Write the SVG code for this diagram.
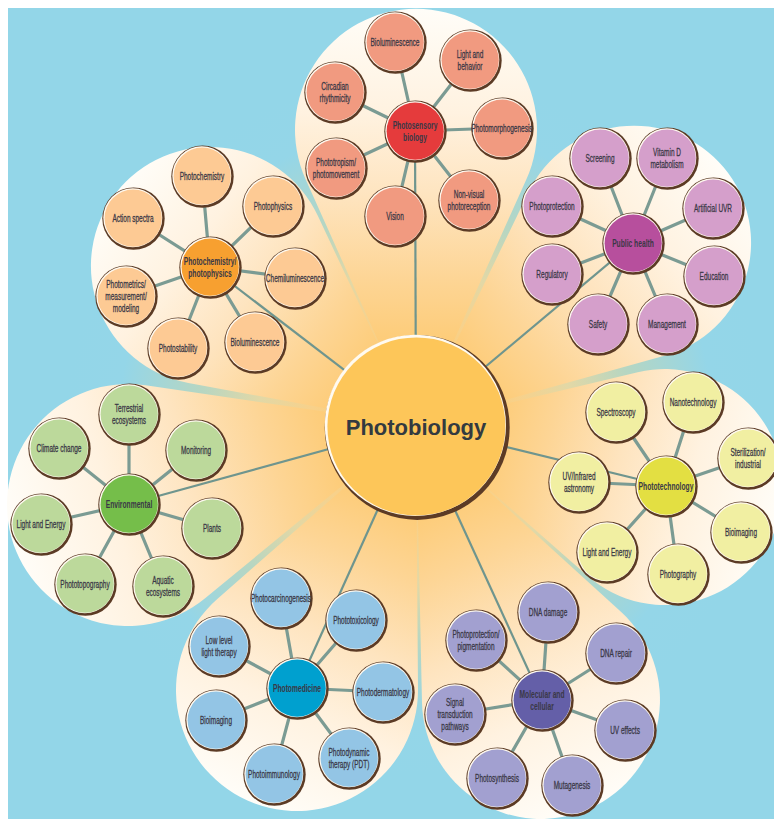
<svg xmlns="http://www.w3.org/2000/svg" width="774" height="819" viewBox="0 0 774 819">
<style>
.t{font-family:'Liberation Sans',Arial,sans-serif;font-size:10.8px;fill:#3a3846;text-anchor:middle;stroke:#3a3846;stroke-width:0.3}
.h{font-weight:bold;font-size:11px;stroke:none}
.main{font-family:'Liberation Sans',Arial,sans-serif;font-weight:bold;font-size:22px;fill:#333a40;text-anchor:middle}
.cn line{stroke:#7b9b93;stroke-width:3.2;stroke-linecap:round}
.cm line{stroke:#6f958e;stroke-width:2.2}
.c-ps{fill:#f19a80}.h-ps{fill:#e53b3c}
.c-pc{fill:#fdca94}.h-pc{fill:#f7a030}
.c-ph{fill:#d59fcb}.h-ph{fill:#b74f9d}
.c-en{fill:#bcd99b}.h-en{fill:#75be4a}
.c-pt{fill:#f1efa2}.h-pt{fill:#e3df42}
.c-pm{fill:#93c5e5}.h-pm{fill:#00a0cf}
.c-mc{fill:#a2a0d0}.h-mc{fill:#645fa8}
</style>
<defs>
<radialGradient id="bg" gradientUnits="userSpaceOnUse" cx="416" cy="425" r="350">
<stop offset="0" stop-color="#fdc55c"/>
<stop offset="0.3" stop-color="#f8d18a"/>
<stop offset="0.45" stop-color="#e2d8a6"/>
<stop offset="0.62" stop-color="#b6d6c2"/>
<stop offset="0.85" stop-color="#94d6e8"/>
<stop offset="1" stop-color="#93d6e8"/>
</radialGradient>
<linearGradient id="p1" gradientUnits="userSpaceOnUse" x1="416" y1="9" x2="416" y2="425">
<stop offset="0" stop-color="#fffdf8"/>
<stop offset="0.25" stop-color="#fff2e0"/>
<stop offset="0.45" stop-color="#fee4bf"/>
<stop offset="0.65" stop-color="#fdd595"/>
<stop offset="0.85" stop-color="#fdc96f"/>
<stop offset="1" stop-color="#fdc45c"/>
</linearGradient>
<linearGradient id="p2" href="#p1" x1="723.8" y1="168" x2="416" y2="425"/>
<linearGradient id="p3" href="#p1" x1="779.5" y1="515.5" x2="416" y2="425"/>
<linearGradient id="p4" href="#p1" x1="590.3" y1="808.3" x2="416" y2="425"/>
<linearGradient id="p5" href="#p1" x1="247.4" y1="800.4" x2="416" y2="425"/>
<linearGradient id="p6" href="#p1" x1="11.4" y1="537.4" x2="416" y2="425"/>
<linearGradient id="p7" href="#p1" x1="115.8" y1="193.3" x2="416" y2="425"/>
<g id="ring"><circle cx="0.5" cy="0.6" r="31.2" fill="#5c3b25"/><circle cx="-0.2" cy="-0.2" r="29.5" fill="#fffaf0"/></g>
</defs>
<rect x="0" y="0" width="774" height="819" fill="#ffffff"/>
<rect x="8" y="8" width="766" height="811" fill="url(#bg)"/>
<g id="petals">
<path d="M416,425 L305.7,179.6 A121,121 0 1 1 526.3,179.6 Z" fill="url(#p1)"/>
<path d="M416,425 L528.6,192 A117,117 0 1 1 665.3,355.4 Z" fill="url(#p2)"/>
<path d="M416,425 L637.7,372.3 A118,118 0 1 1 587.1,575.6 Z" fill="url(#p3)"/>
<path d="M416,425 L621.2,612.1 A119,119 0 1 1 422,702.6 Z" fill="url(#p4)"/>
<path d="M416,425 L418,689.1 A121,121 0 1 1 217.3,599 Z" fill="url(#p5)"/>
<path d="M416,425 L204.8,598.5 A121,121 0 1 1 145.6,385.3 Z" fill="url(#p6)"/>
<path d="M416,425 L188.4,383 A119,119 0 1 1 317.7,215.5 Z" fill="url(#p7)"/>
</g>
<g id="connectors">
<g class="cm">
<line x1="416" y1="425" x2="415" y2="131"/>
<line x1="416" y1="425" x2="210" y2="267"/>
<line x1="416" y1="425" x2="633" y2="243"/>
<line x1="416" y1="425" x2="129" y2="504"/>
<line x1="416" y1="425" x2="666" y2="486"/>
<line x1="416" y1="425" x2="297" y2="688"/>
<line x1="416" y1="425" x2="542" y2="700"/>
</g>
<g class="cn">
<line x1="415" y1="131" x2="395" y2="42"/><line x1="415" y1="131" x2="470" y2="60"/><line x1="415" y1="131" x2="335" y2="92"/><line x1="415" y1="131" x2="502" y2="128"/><line x1="415" y1="131" x2="336" y2="168"/><line x1="415" y1="131" x2="395" y2="216"/><line x1="415" y1="131" x2="469" y2="200"/>
<line x1="210" y1="267" x2="202" y2="176"/><line x1="210" y1="267" x2="273" y2="206"/><line x1="210" y1="267" x2="133" y2="218"/><line x1="210" y1="267" x2="295" y2="278"/><line x1="210" y1="267" x2="126" y2="296"/><line x1="210" y1="267" x2="178" y2="348"/><line x1="210" y1="267" x2="255" y2="342"/>
<line x1="633" y1="243" x2="600" y2="158"/><line x1="633" y1="243" x2="667" y2="158"/><line x1="633" y1="243" x2="552" y2="206"/><line x1="633" y1="243" x2="713" y2="208"/><line x1="633" y1="243" x2="552" y2="274"/><line x1="633" y1="243" x2="714" y2="276"/><line x1="633" y1="243" x2="598" y2="324"/><line x1="633" y1="243" x2="667" y2="324"/>
<line x1="129" y1="504" x2="129" y2="414"/><line x1="129" y1="504" x2="59" y2="448"/><line x1="129" y1="504" x2="196" y2="450"/><line x1="129" y1="504" x2="41" y2="524"/><line x1="129" y1="504" x2="212" y2="528"/><line x1="129" y1="504" x2="85" y2="584"/><line x1="129" y1="504" x2="163" y2="586"/>
<line x1="666" y1="486" x2="616" y2="412"/><line x1="666" y1="486" x2="693" y2="402"/><line x1="666" y1="486" x2="748" y2="458"/><line x1="666" y1="486" x2="579" y2="482"/><line x1="666" y1="486" x2="741" y2="532"/><line x1="666" y1="486" x2="607" y2="552"/><line x1="666" y1="486" x2="678" y2="574"/>
<line x1="297" y1="688" x2="281" y2="598"/><line x1="297" y1="688" x2="356" y2="620"/><line x1="297" y1="688" x2="219" y2="646"/><line x1="297" y1="688" x2="383" y2="692"/><line x1="297" y1="688" x2="216" y2="720"/><line x1="297" y1="688" x2="274" y2="774"/><line x1="297" y1="688" x2="349" y2="758"/>
<line x1="542" y1="700" x2="548" y2="612"/><line x1="542" y1="700" x2="476" y2="640"/><line x1="542" y1="700" x2="616" y2="653"/><line x1="542" y1="700" x2="455" y2="714"/><line x1="542" y1="700" x2="625" y2="730"/><line x1="542" y1="700" x2="497" y2="778"/><line x1="542" y1="700" x2="572" y2="785"/>
</g>
</g>
<g id="photobiology">
<circle cx="417.2" cy="427.4" r="92.5" fill="#5c3b25"/>
<circle cx="415.4" cy="425.4" r="90.6" fill="#fffaf0"/>
<circle cx="416.4" cy="426.4" r="89" fill="#fdc659"/>
<text class="main" x="416" y="435">Photobiology</text>
</g>
<!-- Photosensory biology -->
<g id="photosensory-biology" transform="translate(415,131)"><use href="#ring"/><circle class="h-ps" cx="0.2" cy="0.2" r="28.6"/><text class="t h" transform="scale(0.61,1)"><tspan x="0" y="-2.4">Photosensory</tspan><tspan x="0" y="9.8">biology</tspan></text></g>
<g id="ps-bioluminescence" transform="translate(395,42)"><use href="#ring"/><circle class="c-ps" cx="0.2" cy="0.2" r="28.6"/><text class="t" transform="scale(0.6,1)" y="3.8">Bioluminescence</text></g>
<g id="ps-light-behavior" transform="translate(470,60)"><use href="#ring"/><circle class="c-ps" cx="0.2" cy="0.2" r="28.6"/><text class="t" transform="scale(0.6,1)"><tspan x="0" y="-2.4">Light and</tspan><tspan x="0" y="9.8">behavior</tspan></text></g>
<g id="ps-circadian" transform="translate(335,92)"><use href="#ring"/><circle class="c-ps" cx="0.2" cy="0.2" r="28.6"/><text class="t" transform="scale(0.6,1)"><tspan x="0" y="-2.4">Circadian</tspan><tspan x="0" y="9.8">rhythmicity</tspan></text></g>
<g id="ps-photomorphogenesis" transform="translate(502,128)"><use href="#ring"/><circle class="c-ps" cx="0.2" cy="0.2" r="28.6"/><text class="t" transform="scale(0.6,1)" y="3.8">Photomorphogenesis</text></g>
<g id="ps-phototropism" transform="translate(336,168)"><use href="#ring"/><circle class="c-ps" cx="0.2" cy="0.2" r="28.6"/><text class="t" transform="scale(0.6,1)"><tspan x="0" y="-2.4">Phototropism/</tspan><tspan x="0" y="9.8">photomovement</tspan></text></g>
<g id="ps-vision" transform="translate(395,216)"><use href="#ring"/><circle class="c-ps" cx="0.2" cy="0.2" r="28.6"/><text class="t" transform="scale(0.6,1)" y="3.8">Vision</text></g>
<g id="ps-nonvisual" transform="translate(469,200)"><use href="#ring"/><circle class="c-ps" cx="0.2" cy="0.2" r="28.6"/><text class="t" transform="scale(0.6,1)"><tspan x="0" y="-2.4">Non-visual</tspan><tspan x="0" y="9.8">photoreception</tspan></text></g>
<!-- Photochemistry/photophysics -->
<g id="photochemistry-photophysics" transform="translate(210,267)"><use href="#ring"/><circle class="h-pc" cx="0.2" cy="0.2" r="28.6"/><text class="t h" transform="scale(0.61,1)"><tspan x="0" y="-2.4">Photochemistry/</tspan><tspan x="0" y="9.8">photophysics</tspan></text></g>
<g id="pc-photochemistry" transform="translate(202,176)"><use href="#ring"/><circle class="c-pc" cx="0.2" cy="0.2" r="28.6"/><text class="t" transform="scale(0.6,1)" y="3.8">Photochemistry</text></g>
<g id="pc-photophysics" transform="translate(273,206)"><use href="#ring"/><circle class="c-pc" cx="0.2" cy="0.2" r="28.6"/><text class="t" transform="scale(0.6,1)" y="3.8">Photophysics</text></g>
<g id="pc-action-spectra" transform="translate(133,218)"><use href="#ring"/><circle class="c-pc" cx="0.2" cy="0.2" r="28.6"/><text class="t" transform="scale(0.6,1)" y="3.8">Action spectra</text></g>
<g id="pc-chemiluminescence" transform="translate(295,278)"><use href="#ring"/><circle class="c-pc" cx="0.2" cy="0.2" r="28.6"/><text class="t" transform="scale(0.6,1)" y="3.8">Chemiluminescence</text></g>
<g id="pc-photometrics" transform="translate(126,296)"><use href="#ring"/><circle class="c-pc" cx="0.2" cy="0.2" r="28.6"/><text class="t" transform="scale(0.6,1)"><tspan x="0" y="-8.4">Photometrics/</tspan><tspan x="0" y="3.8">measurement/</tspan><tspan x="0" y="16">modeling</tspan></text></g>
<g id="pc-photostability" transform="translate(178,348)"><use href="#ring"/><circle class="c-pc" cx="0.2" cy="0.2" r="28.6"/><text class="t" transform="scale(0.6,1)" y="3.8">Photostability</text></g>
<g id="pc-bioluminescence" transform="translate(255,342)"><use href="#ring"/><circle class="c-pc" cx="0.2" cy="0.2" r="28.6"/><text class="t" transform="scale(0.6,1)" y="3.8">Bioluminescence</text></g>
<!-- Public health -->
<g id="public-health" transform="translate(633,243)"><use href="#ring"/><circle class="h-ph" cx="0.2" cy="0.2" r="28.6"/><text class="t h" transform="scale(0.61,1)" y="3.8">Public health</text></g>
<g id="ph-screening" transform="translate(600,158)"><use href="#ring"/><circle class="c-ph" cx="0.2" cy="0.2" r="28.6"/><text class="t" transform="scale(0.6,1)" y="3.8">Screening</text></g>
<g id="ph-vitamin-d" transform="translate(667,158)"><use href="#ring"/><circle class="c-ph" cx="0.2" cy="0.2" r="28.6"/><text class="t" transform="scale(0.6,1)"><tspan x="0" y="-2.4">Vitamin D</tspan><tspan x="0" y="9.8">metabolism</tspan></text></g>
<g id="ph-photoprotection" transform="translate(552,206)"><use href="#ring"/><circle class="c-ph" cx="0.2" cy="0.2" r="28.6"/><text class="t" transform="scale(0.6,1)" y="3.8">Photoprotection</text></g>
<g id="ph-artificial-uvr" transform="translate(713,208)"><use href="#ring"/><circle class="c-ph" cx="0.2" cy="0.2" r="28.6"/><text class="t" transform="scale(0.6,1)" y="3.8">Artificial UVR</text></g>
<g id="ph-regulatory" transform="translate(552,274)"><use href="#ring"/><circle class="c-ph" cx="0.2" cy="0.2" r="28.6"/><text class="t" transform="scale(0.6,1)" y="3.8">Regulatory</text></g>
<g id="ph-education" transform="translate(714,276)"><use href="#ring"/><circle class="c-ph" cx="0.2" cy="0.2" r="28.6"/><text class="t" transform="scale(0.6,1)" y="3.8">Education</text></g>
<g id="ph-safety" transform="translate(598,324)"><use href="#ring"/><circle class="c-ph" cx="0.2" cy="0.2" r="28.6"/><text class="t" transform="scale(0.6,1)" y="3.8">Safety</text></g>
<g id="ph-management" transform="translate(667,324)"><use href="#ring"/><circle class="c-ph" cx="0.2" cy="0.2" r="28.6"/><text class="t" transform="scale(0.6,1)" y="3.8">Management</text></g>
<!-- Environmental -->
<g id="environmental" transform="translate(129,504)"><use href="#ring"/><circle class="h-en" cx="0.2" cy="0.2" r="28.6"/><text class="t h" transform="scale(0.61,1)" y="3.8">Environmental</text></g>
<g id="en-terrestrial" transform="translate(129,414)"><use href="#ring"/><circle class="c-en" cx="0.2" cy="0.2" r="28.6"/><text class="t" transform="scale(0.6,1)"><tspan x="0" y="-2.4">Terrestrial</tspan><tspan x="0" y="9.8">ecosystems</tspan></text></g>
<g id="en-climate" transform="translate(59,448)"><use href="#ring"/><circle class="c-en" cx="0.2" cy="0.2" r="28.6"/><text class="t" transform="scale(0.6,1)" y="3.8">Climate change</text></g>
<g id="en-monitoring" transform="translate(196,450)"><use href="#ring"/><circle class="c-en" cx="0.2" cy="0.2" r="28.6"/><text class="t" transform="scale(0.6,1)" y="3.8">Monitoring</text></g>
<g id="en-light-energy" transform="translate(41,524)"><use href="#ring"/><circle class="c-en" cx="0.2" cy="0.2" r="28.6"/><text class="t" transform="scale(0.6,1)" y="3.8">Light and Energy</text></g>
<g id="en-plants" transform="translate(212,528)"><use href="#ring"/><circle class="c-en" cx="0.2" cy="0.2" r="28.6"/><text class="t" transform="scale(0.6,1)" y="3.8">Plants</text></g>
<g id="en-phototopography" transform="translate(85,584)"><use href="#ring"/><circle class="c-en" cx="0.2" cy="0.2" r="28.6"/><text class="t" transform="scale(0.6,1)" y="3.8">Phototopography</text></g>
<g id="en-aquatic" transform="translate(163,586)"><use href="#ring"/><circle class="c-en" cx="0.2" cy="0.2" r="28.6"/><text class="t" transform="scale(0.6,1)"><tspan x="0" y="-2.4">Aquatic</tspan><tspan x="0" y="9.8">ecosystems</tspan></text></g>
<!-- Phototechnology -->
<g id="phototechnology" transform="translate(666,486)"><use href="#ring"/><circle class="h-pt" cx="0.2" cy="0.2" r="28.6"/><text class="t h" transform="scale(0.61,1)" y="3.8">Phototechnology</text></g>
<g id="pt-spectroscopy" transform="translate(616,412)"><use href="#ring"/><circle class="c-pt" cx="0.2" cy="0.2" r="28.6"/><text class="t" transform="scale(0.6,1)" y="3.8">Spectroscopy</text></g>
<g id="pt-nanotechnology" transform="translate(693,402)"><use href="#ring"/><circle class="c-pt" cx="0.2" cy="0.2" r="28.6"/><text class="t" transform="scale(0.6,1)" y="3.8">Nanotechnology</text></g>
<g id="pt-sterilization" transform="translate(748,458)"><use href="#ring"/><circle class="c-pt" cx="0.2" cy="0.2" r="28.6"/><text class="t" transform="scale(0.6,1)"><tspan x="0" y="-2.4">Sterilization/</tspan><tspan x="0" y="9.8">industrial</tspan></text></g>
<g id="pt-uv-infrared" transform="translate(579,482)"><use href="#ring"/><circle class="c-pt" cx="0.2" cy="0.2" r="28.6"/><text class="t" transform="scale(0.6,1)"><tspan x="0" y="-2.4">UV/Infrared</tspan><tspan x="0" y="9.8">astronomy</tspan></text></g>
<g id="pt-bioimaging" transform="translate(741,532)"><use href="#ring"/><circle class="c-pt" cx="0.2" cy="0.2" r="28.6"/><text class="t" transform="scale(0.6,1)" y="3.8">Bioimaging</text></g>
<g id="pt-light-energy" transform="translate(607,552)"><use href="#ring"/><circle class="c-pt" cx="0.2" cy="0.2" r="28.6"/><text class="t" transform="scale(0.6,1)" y="3.8">Light and Energy</text></g>
<g id="pt-photography" transform="translate(678,574)"><use href="#ring"/><circle class="c-pt" cx="0.2" cy="0.2" r="28.6"/><text class="t" transform="scale(0.6,1)" y="3.8">Photography</text></g>
<!-- Photomedicine -->
<g id="photomedicine" transform="translate(297,688)"><use href="#ring"/><circle class="h-pm" cx="0.2" cy="0.2" r="28.6"/><text class="t h" transform="scale(0.61,1)" y="3.8">Photomedicine</text></g>
<g id="pm-photocarcinogenesis" transform="translate(281,598)"><use href="#ring"/><circle class="c-pm" cx="0.2" cy="0.2" r="28.6"/><text class="t" transform="scale(0.6,1)" y="3.8">Photocarcinogenesis</text></g>
<g id="pm-phototoxicology" transform="translate(356,620)"><use href="#ring"/><circle class="c-pm" cx="0.2" cy="0.2" r="28.6"/><text class="t" transform="scale(0.6,1)" y="3.8">Phototoxicology</text></g>
<g id="pm-low-level" transform="translate(219,646)"><use href="#ring"/><circle class="c-pm" cx="0.2" cy="0.2" r="28.6"/><text class="t" transform="scale(0.6,1)"><tspan x="0" y="-2.4">Low level</tspan><tspan x="0" y="9.8">light therapy</tspan></text></g>
<g id="pm-photodermatology" transform="translate(383,692)"><use href="#ring"/><circle class="c-pm" cx="0.2" cy="0.2" r="28.6"/><text class="t" transform="scale(0.6,1)" y="3.8">Photodermatology</text></g>
<g id="pm-bioimaging" transform="translate(216,720)"><use href="#ring"/><circle class="c-pm" cx="0.2" cy="0.2" r="28.6"/><text class="t" transform="scale(0.6,1)" y="3.8">Bioimaging</text></g>
<g id="pm-photoimmunology" transform="translate(274,774)"><use href="#ring"/><circle class="c-pm" cx="0.2" cy="0.2" r="28.6"/><text class="t" transform="scale(0.6,1)" y="3.8">Photoimmunology</text></g>
<g id="pm-pdt" transform="translate(349,758)"><use href="#ring"/><circle class="c-pm" cx="0.2" cy="0.2" r="28.6"/><text class="t" transform="scale(0.6,1)"><tspan x="0" y="-2.4">Photodynamic</tspan><tspan x="0" y="9.8">therapy (PDT)</tspan></text></g>
<!-- Molecular and cellular -->
<g id="molecular-cellular" transform="translate(542,700)"><use href="#ring"/><circle class="h-mc" cx="0.2" cy="0.2" r="28.6"/><text class="t h" transform="scale(0.61,1)"><tspan x="0" y="-2.4">Molecular and</tspan><tspan x="0" y="9.8">cellular</tspan></text></g>
<g id="mc-dna-damage" transform="translate(548,612)"><use href="#ring"/><circle class="c-mc" cx="0.2" cy="0.2" r="28.6"/><text class="t" transform="scale(0.6,1)" y="3.8">DNA damage</text></g>
<g id="mc-photoprotection" transform="translate(476,640)"><use href="#ring"/><circle class="c-mc" cx="0.2" cy="0.2" r="28.6"/><text class="t" transform="scale(0.6,1)"><tspan x="0" y="-2.4">Photoprotection/</tspan><tspan x="0" y="9.8">pigmentation</tspan></text></g>
<g id="mc-dna-repair" transform="translate(616,653)"><use href="#ring"/><circle class="c-mc" cx="0.2" cy="0.2" r="28.6"/><text class="t" transform="scale(0.6,1)" y="3.8">DNA repair</text></g>
<g id="mc-signal" transform="translate(455,714)"><use href="#ring"/><circle class="c-mc" cx="0.2" cy="0.2" r="28.6"/><text class="t" transform="scale(0.6,1)"><tspan x="0" y="-8.4">Signal</tspan><tspan x="0" y="3.8">transduction</tspan><tspan x="0" y="16">pathways</tspan></text></g>
<g id="mc-uv-effects" transform="translate(625,730)"><use href="#ring"/><circle class="c-mc" cx="0.2" cy="0.2" r="28.6"/><text class="t" transform="scale(0.6,1)" y="3.8">UV effects</text></g>
<g id="mc-photosynthesis" transform="translate(497,778)"><use href="#ring"/><circle class="c-mc" cx="0.2" cy="0.2" r="28.6"/><text class="t" transform="scale(0.6,1)" y="3.8">Photosynthesis</text></g>
<g id="mc-mutagenesis" transform="translate(572,785)"><use href="#ring"/><circle class="c-mc" cx="0.2" cy="0.2" r="28.6"/><text class="t" transform="scale(0.6,1)" y="3.8">Mutagenesis</text></g>
</svg>
